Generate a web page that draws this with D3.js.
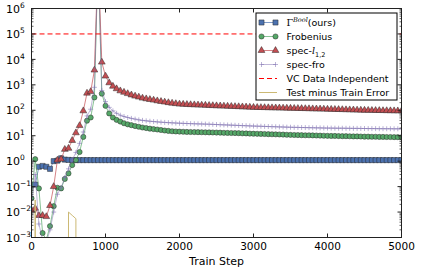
<!DOCTYPE html>
<html>
<head>
<meta charset="utf-8">
<script src="https://cdn.jsdelivr.net/npm/d3@7"></script>
<style>
body { margin: 0; background: #fff; }
svg { display: block; font-family: "DejaVu Sans", sans-serif; }
</style>
</head>
<body>
<div id="chart"></div>
<script>
// train steps (x values)
var steps = [0,50,100,150,200,250,300,350,400,450,
    500,550,600,650,700,750,800,850,900,950,
    1000,1050,1100,1150,1200,1250,1300,1350,1400,1450,
    1500,1550,1600,1650,1700,1750,1800,1850,1900,1950,
    2000,2050,2100,2150,2200,2250,2300,2350,2400,2450,
    2500,2550,2600,2650,2700,2750,2800,2850,2900,2950,
    3000,3050,3100,3150,3200,3250,3300,3350,3400,3450,
    3500,3550,3600,3650,3700,3750,3800,3850,3900,3950,
    4000,4050,4100,4150,4200,4250,4300,4350,4400,4450,
    4500,4550,4600,4650,4700,4750,4800,4850,4900,4950,
    5000];

// Gamma^Bool (ours)
var gammaBool = [0.12,0.12,0.6,0.65,0.6,0.5,1.0,1.05,1.3,1.15,
    1.12,1.1,1.1,1.1,1.1,1.1,1.1,1.1,1.1,1.1,
    1.1,1.1,1.1,1.1,1.1,1.1,1.1,1.1,1.1,1.1,
    1.1,1.1,1.1,1.1,1.1,1.1,1.1,1.1,1.1,1.1,
    1.1,1.1,1.1,1.1,1.1,1.1,1.1,1.1,1.1,1.1,
    1.1,1.1,1.1,1.1,1.1,1.1,1.1,1.1,1.1,1.1,
    1.1,1.1,1.1,1.1,1.1,1.1,1.1,1.1,1.1,1.1,
    1.1,1.1,1.1,1.1,1.1,1.1,1.1,1.1,1.1,1.1,
    1.1,1.1,1.1,1.1,1.1,1.1,1.1,1.1,1.1,1.1,
    1.1,1.1,1.1,1.1,1.1,1.1,1.1,1.1,1.1,1.1,
    1.1];

// Frobenius
var frobenius = [0.035,1.2,0.085,0.0015,0.0008,0.0028,0.017,0.09,0.085,0.2,
    0.33,0.7,1.1,2.3,9,39,52,320,1e8,450,
    150,75,52,42,36,31,28,26,24,22.5,
    21,20,19,18.2,17.5,16.8,16,15.5,15,14.7,
    14.5,14.3,14.1,14.0,13.9,13.8,13.7,13.6,13.5,13.4,
    13.3,13.2,13.0,12.9,12.8,12.7,12.6,12.4,12.3,12.1,
    12.0,11.9,11.8,11.7,11.5,11.4,11.3,11.2,11.1,10.9,
    10.8,10.7,10.6,10.5,10.4,10.4,10.3,10.2,10.1,10.0,
    9.9,9.8,9.8,9.7,9.6,9.6,9.5,9.4,9.4,9.3,
    9.2,9.2,9.1,9.1,9.0,9.0,8.9,8.9,8.8,8.8,
    8.7];

// spec-l_{1,2}
var specL12 = [0.012,0.014,0.0073,0.0073,0.0066,0.018,0.1,1.1,1.2,2.9,
    3.2,6.5,13,25,95,470,540,3800,1e8,7800,
    2200,1200,880,700,580,510,450,400,360,330,
    300,282,265,250,235,222,210,199,190,182,
    175,172,169,166,164,161,159,157,155,152,
    150,148,146,144,142,140,138,136,134,132,
    130,129,128,127,126,125,124,123,122,121,
    120,119,118,117,116,115,114,113,112,111,
    110,109,108,107,106,105,104,103,102,101,
    100,99.4,98.8,98.2,97.6,97,96.4,95.8,95.2,94.6,
    94];

// spec-fro
var specFro = [0.02,0.3,0.0034,0.0008,0.0006,0.002,0.01,0.05,0.09,0.23,
    0.5,1.1,2.2,5,14,60,110,800,1e8,600,
    220,130,95,76,64,57,52,48,45,42,
    40,38.5,37,36,35,34,33.3,32.7,32.1,31.5,
    31,30.6,30.2,29.8,29.5,29.2,28.9,28.6,28.3,27.9,
    27.5,27.1,26.7,26.4,26.0,25.7,25.3,25.0,24.7,24.3,
    24.0,23.7,23.5,23.2,23.0,22.7,22.5,22.2,22.0,21.7,
    21.5,21.3,21.2,21.0,20.9,20.7,20.6,20.4,20.3,20.1,
    20.0,19.9,19.8,19.7,19.7,19.6,19.5,19.4,19.4,19.3,
    19.2,19.1,19.1,19.0,18.9,18.9,18.8,18.8,18.7,18.7,
    18.6];

// Test minus Train Error (zero / negative values fall off the log axis)
var testMinusTrain = [0,0.03,0,0,0,0,0,0,0,0,
    0.01,0.0074,0.0055,0,0,0,0,0,0,0,
    0,0,0,0,0,0,0,0,0,0,
    0,0,0,0,0,0,0,0,0,0,
    0,0,0,0,0,0,0,0,0,0,
    0,0,0,0,0,0,0,0,0,0,
    0,0,0,0,0,0,0,0,0,0,
    0,0,0,0,0,0,0,0,0,0,
    0,0,0,0,0,0,0,0,0,0,
    0,0,0,0,0,0,0,0,0,0,
    0];

// VC Data Independent bound
var vcBound = 1e5;

var xTicks = [0,1000,2000,3000,4000,5000];
var yExps = [-3,-2,-1,0,1,2,3,4,5,6];

var margin = {top: 8.5, right: 19.5, bottom: 34.5, left: 31.5},
    width = 421 - margin.left - margin.right,
    height = 272 - margin.top - margin.bottom;

var svg = d3.select("#chart").append("svg")
    .attr("width", 421)
    .attr("height", 272);

var g = svg.append("g")
    .attr("transform", "translate(" + margin.left + "," + margin.top + ")");

var x = d3.scaleLinear().domain([0, 5000]).range([0, width]);
var y = d3.scaleLog().domain([1e-3, 1e6]).range([height, 0]);

g.append("clipPath").attr("id", "clip")
    .append("rect").attr("width", width).attr("height", height);

var plot = g.append("g").attr("clip-path", "url(#clip)");

// nonpositive values get clipped to a tiny number (like matplotlib)
function yv(v) { return y(v > 0 ? v : 1e-300); }

var series = [
    {name: "gamma", vals: gammaBool, color: "#4C72B0", marker: "square"},
    {name: "frob", vals: frobenius, color: "#55A868", marker: "circle"},
    {name: "l12", vals: specL12, color: "#C44E52", marker: "triangle"},
    {name: "fro", vals: specFro, color: "#8172B2", marker: "plus"}
];

function markerPath(type) {
    if (type == "square") return d3.symbol().type(d3.symbolSquare).size(26)();
    if (type == "circle") return d3.symbol().type(d3.symbolCircle).size(21)();
    if (type == "triangle") return d3.symbol().type(d3.symbolTriangle).size(20)();
    return "M-2.5,0H2.5M0,-2.5V2.5";
}

function drawMarker(sel, s) {
    if (s.marker == "plus") {
        sel.attr("d", markerPath("plus"))
            .attr("fill", "none")
            .attr("stroke", s.color)
            .attr("stroke-opacity", 0.55)
            .attr("stroke-width", 1);
    } else {
        sel.attr("d", markerPath(s.marker))
            .attr("fill", s.color)
            .attr("stroke", "#2a2a2a")
            .attr("stroke-width", 0.5);
    }
}

var line = d3.line()
    .x(function(d, i) { return x(steps[i]); })
    .y(function(d) { return yv(d); });

series.forEach(function(s) {
    plot.append("path")
        .datum(s.vals)
        .attr("fill", "none")
        .attr("stroke", s.color)
        .attr("stroke-opacity", s.marker == "plus" ? 0.5 : 0.7)
        .attr("stroke-width", 1)
        .attr("d", line);

    var pts = s.vals.map(function(v, i) { return {s: steps[i], v: v}; })
        .filter(function(d) { return d.v > 0 && d.v < 1e7; });

    plot.selectAll(null)
        .data(pts)
        .enter().append("path")
        .attr("transform", function(d) { return "translate(" + x(d.s) + "," + y(d.v) + ")"; })
        .call(drawMarker, s);
});

// VC bound, dashed
plot.append("line")
    .attr("x1", x(0)).attr("x2", x(5000))
    .attr("y1", y(vcBound)).attr("y2", y(vcBound))
    .attr("stroke", "#ff0000")
    .attr("stroke-width", 1)
    .attr("stroke-dasharray", "5,3");

// test minus train error
plot.append("path")
    .datum(testMinusTrain)
    .attr("fill", "none")
    .attr("stroke", "#CCB974")
    .attr("stroke-width", 1)
    .attr("d", line);

// frame
g.append("rect")
    .attr("width", width).attr("height", height)
    .attr("fill", "none")
    .attr("stroke", "#222")
    .attr("stroke-width", 1);

// x ticks (inside, top and bottom)
xTicks.forEach(function(t) {
    g.append("line").attr("x1", x(t)).attr("x2", x(t))
        .attr("y1", height).attr("y2", height - 4).attr("stroke", "#222");
    g.append("line").attr("x1", x(t)).attr("x2", x(t))
        .attr("y1", 0).attr("y2", 4).attr("stroke", "#222");
    g.append("text")
        .attr("x", x(t)).attr("y", height + 12.5)
        .attr("text-anchor", "middle")
        .style("font-size", "10.5px")
        .text(t);
});

// y ticks (log, major + minor)
yExps.forEach(function(e) {
    var v = Math.pow(10, e);
    g.append("line").attr("x1", 0).attr("x2", 4)
        .attr("y1", y(v)).attr("y2", y(v)).attr("stroke", "#222");
    g.append("line").attr("x1", width).attr("x2", width - 4)
        .attr("y1", y(v)).attr("y2", y(v)).attr("stroke", "#222");
    if (e < 6) {
        for (var m = 2; m < 10; m++) {
            var mv = m * v;
            g.append("line").attr("x1", 0).attr("x2", 2)
                .attr("y1", y(mv)).attr("y2", y(mv)).attr("stroke", "#222").attr("stroke-width", 0.7);
            g.append("line").attr("x1", width).attr("x2", width - 2)
                .attr("y1", y(mv)).attr("y2", y(mv)).attr("stroke", "#222").attr("stroke-width", 0.7);
        }
    }
    var lbl = svg.append("text")
        .attr("x", 6)
        .attr("y", margin.top + y(v) + 4.2)
        .style("font-size", "11px");
    lbl.append("tspan").text("10");
    lbl.append("tspan")
        .attr("dy", -5)
        .style("font-size", "7.5px")
        .text(e < 0 ? "\u2212" + (-e) : e);
});

// x label
svg.append("text")
    .attr("x", margin.left + width / 2)
    .attr("y", 265)
    .attr("text-anchor", "middle")
    .style("font-size", "11px")
    .text("Train Step");

// legend
var leg = svg.append("g").attr("transform", "translate(256,13)");
leg.append("rect")
    .attr("x", 0).attr("y", 0)
    .attr("width", 141).attr("height", 87)
    .attr("fill", "#fff")
    .attr("stroke", "#000")
    .attr("stroke-width", 1);

var legItems = [
    {s: series[0]}, {s: series[1]}, {s: series[2]}, {s: series[3]},
    {vc: true}, {tt: true}
];

legItems.forEach(function(it, i) {
    var ly = 9.5 + i * 14;
    var row = leg.append("g").attr("transform", "translate(0," + ly + ")");
    if (it.s) {
        row.append("line").attr("x1", 5.5).attr("x2", 19.5)
            .attr("stroke", it.s.color)
            .attr("stroke-opacity", it.s.marker == "plus" ? 0.5 : 0.7);
        [5.5, 19.5].forEach(function(mx) {
            row.append("path").attr("transform", "translate(" + mx + ",0)").call(drawMarker, it.s);
        });
    } else if (it.vc) {
        row.append("line").attr("x1", 3).attr("x2", 21)
            .attr("stroke", "#ff0000").attr("stroke-dasharray", "5,3");
    } else {
        row.append("line").attr("x1", 3).attr("x2", 21)
            .attr("stroke", "#CCB974");
    }
    var t = row.append("text").attr("x", 30.5).attr("y", 3.5).style("font-size", "9.5px");
    if (i == 0) {
        t.append("tspan").style("font-family", "DejaVu Serif").text("\u0393");
        t.append("tspan").attr("dy", -4).style("font-size", "6.5px")
            .style("font-family", "DejaVu Serif").style("font-style", "italic").text("Bool");
        t.append("tspan").attr("dy", 4).text("(ours)");
    } else if (i == 1) {
        t.text("Frobenius");
    } else if (i == 2) {
        t.append("tspan").text("spec-");
        t.append("tspan").style("font-family", "DejaVu Serif").style("font-style", "italic").text("l");
        t.append("tspan").attr("dy", 2.5).style("font-size", "6.5px").text("1,2");
    } else if (i == 3) {
        t.text("spec-fro");
    } else if (i == 4) {
        t.text("VC Data Independent");
    } else {
        t.text("Test minus Train Error");
    }
});
</script>
</body>
</html>
